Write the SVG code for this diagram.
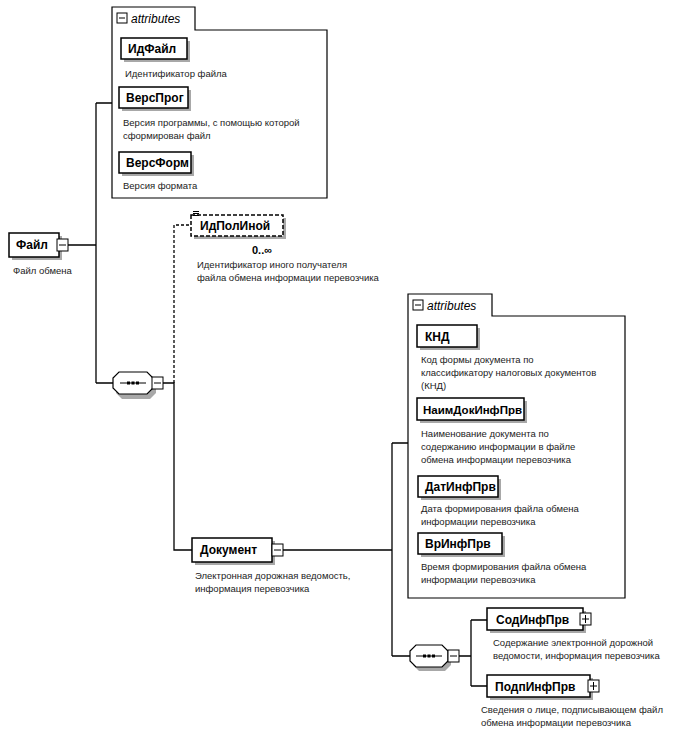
<svg xmlns="http://www.w3.org/2000/svg" width="700" height="736" viewBox="0 0 700 736">
<style>
.bg{fill:#ffffff}
.box{fill:#ffffff;stroke:#000;stroke-width:1.5}
.dbox{fill:#ffffff;stroke:#000;stroke-width:1.5;stroke-dasharray:4 2}
.sh{fill:#a8a8a8}
.grp{fill:#ffffff;stroke:#000;stroke-width:1.2}
.ln{fill:none;stroke:#000;stroke-width:1.3}
.dl{fill:none;stroke:#000;stroke-width:1.3;stroke-dasharray:3 2}
.ic{fill:#ffffff;stroke:#000;stroke-width:1}
.icl{stroke:#000;stroke-width:1}
.nm{font-family:"Liberation Sans",Arial,sans-serif;font-size:12px;font-weight:bold;fill:#000}
.ds{font-family:"Liberation Sans",Arial,sans-serif;font-size:9.5px;fill:#222}
.at{font-family:"Liberation Sans",Arial,sans-serif;font-size:12px;font-style:italic;fill:#000}
.oc{font-family:"Liberation Sans",Arial,sans-serif;font-size:11px;font-weight:bold;fill:#000}
</style>
<rect class="bg" x="0" y="0" width="700" height="736"/>

<g id="connectors">
  <path class="ln" d="M68,245 H96 M96,103 V383 M96,103 H112 M96,383 H113"/>
  <path class="ln" d="M163,383 H174 V550 H192"/>
  <path class="dl" d="M174,383 V225 H191"/>
  <path class="ln" d="M283,550 H392 M392,443 V656 M392,443 H408 M392,656 H410"/>
  <path class="ln" d="M459,656 H471 M471,620 V686 M471,620 H487 M471,686 H487"/>
</g>

<g id="attrs1">
  <path class="grp" d="M112,198 V7 H195 V30 H327 V198 Z"/>
  <rect class="ic" x="117" y="13" width="10" height="10"/>
  <line class="icl" x1="119" y1="18" x2="125" y2="18"/>
  <text class="at" x="131" y="23">attributes</text>
</g>

<g id="ИдФайл">
  <rect class="sh" x="124" y="41" width="66" height="21"/>
  <rect class="box" x="121" y="38" width="66" height="21"/>
  <text class="nm" x="128" y="53">ИдФайл</text>
  <text class="ds" x="125" y="77">Идентификатор файла</text>
</g>

<g id="ВерсПрог">
  <rect class="sh" x="122" y="90" width="69" height="21"/>
  <rect class="box" x="119" y="87" width="69" height="21"/>
  <text class="nm" x="126" y="102">ВерсПрог</text>
  <text class="ds" x="123" y="126">Версия программы, с помощью которой</text>
  <text class="ds" x="123" y="139">сформирован файл</text>
</g>

<g id="ВерсФорм">
  <rect class="sh" x="122" y="155" width="72" height="21"/>
  <rect class="box" x="119" y="152" width="72" height="21"/>
  <text class="nm" x="126" y="167">ВерсФорм</text>
  <text class="ds" x="123" y="189">Версия формата</text>
</g>

<g id="Файл">
  <rect class="sh" x="12" y="236" width="50" height="24"/>
  <rect class="box" x="9" y="233" width="50" height="24"/>
  <text class="nm" x="16" y="249">Файл</text>
  <rect class="ic" x="57" y="239" width="11" height="12"/>
  <line class="icl" x1="59" y1="245" x2="66" y2="245"/>
  <text class="ds" x="13" y="274">Файл обмена</text>
</g>

<g id="ИдПолИной">
  <rect class="sh" x="194" y="218" width="92" height="21"/>
  <rect class="dbox" x="191" y="215" width="92" height="21"/>
  <path class="icl" d="M193,211.5 H199 M193,213.5 H199 M193,215.5 H199"/>
  <text class="nm" x="200" y="230">ИдПолИной</text>
  <text class="oc" x="252" y="254">0..∞</text>
  <text class="ds" x="197" y="268">Идентификатор иного получателя</text>
  <text class="ds" x="197" y="281">файла обмена информации перевозчика</text>
</g>

<g id="seq1">
  <path class="sh" d="M122,377 H150 L156,383 V393 L150,399 H122 L116,393 V383 Z"/>
  <path class="grp" d="M119,372 H147 L153,378 V388 L147,394 H119 L113,388 V378 Z"/>
  <line class="icl" x1="120" y1="383" x2="146" y2="383"/>
  <rect x="127" y="381.5" width="3" height="3" fill="#000"/>
  <rect x="131.5" y="381.5" width="3" height="3" fill="#000"/>
  <rect x="136" y="381.5" width="3" height="3" fill="#000"/>
  <rect class="ic" x="152" y="377" width="11" height="12"/>
  <line class="icl" x1="154" y1="383" x2="161" y2="383"/>
</g>

<g id="Документ">
  <rect class="sh" x="195" y="541" width="80" height="24"/>
  <rect class="box" x="192" y="538" width="80" height="24"/>
  <text class="nm" x="200" y="554">Документ</text>
  <rect class="ic" x="272" y="544" width="11" height="12"/>
  <line class="icl" x1="274" y1="550" x2="281" y2="550"/>
  <text class="ds" x="195" y="579">Электронная дорожная ведомость,</text>
  <text class="ds" x="195" y="592">информация перевозчика</text>
</g>

<g id="attrs2">
  <path class="grp" d="M408,598 V294 H492 V316 H625 V598 Z"/>
  <rect class="ic" x="413" y="300" width="10" height="10"/>
  <line class="icl" x1="415" y1="305" x2="421" y2="305"/>
  <text class="at" x="427" y="310">attributes</text>
</g>

<g id="КНД">
  <rect class="sh" x="420" y="328" width="60" height="22"/>
  <rect class="box" x="417" y="325" width="60" height="22"/>
  <text class="nm" x="425" y="341">КНД</text>
  <text class="ds" x="421" y="363">Код формы документа по</text>
  <text class="ds" x="421" y="376">классификатору налоговых документов</text>
  <text class="ds" x="421" y="389">(КНД)</text>
</g>

<g id="НаимДокИнфПрв">
  <rect class="sh" x="420" y="401" width="107" height="22"/>
  <rect class="box" x="417" y="398" width="107" height="22"/>
  <text class="nm" x="423" y="414" style="font-size:11.5px">НаимДокИнфПрв</text>
  <text class="ds" x="421" y="437">Наименование документа по</text>
  <text class="ds" x="421" y="450">содержанию информации в файле</text>
  <text class="ds" x="421" y="463">обмена информации перевозчика</text>
</g>

<g id="ДатИнфПрв">
  <rect class="sh" x="421" y="479" width="80" height="21"/>
  <rect class="box" x="418" y="476" width="80" height="21"/>
  <text class="nm" x="425" y="491">ДатИнфПрв</text>
  <text class="ds" x="421" y="512">Дата формирования файла обмена</text>
  <text class="ds" x="421" y="525">информации перевозчика</text>
</g>

<g id="ВрИнфПрв">
  <rect class="sh" x="421" y="536" width="84" height="21"/>
  <rect class="box" x="418" y="533" width="84" height="21"/>
  <text class="nm" x="425" y="548">ВрИнфПрв</text>
  <text class="ds" x="421" y="570">Время формирования файла обмена</text>
  <text class="ds" x="421" y="583">информации перевозчика</text>
</g>

<g id="seq2">
  <path class="sh" d="M419,649 H445 L451,655 V665 L445,671 H419 L413,665 V655 Z"/>
  <path class="grp" d="M416,645 H442 L448,651 V661 L442,667 H416 L410,661 V651 Z"/>
  <line class="icl" x1="416" y1="656" x2="442" y2="656"/>
  <rect x="423" y="654.5" width="3" height="3" fill="#000"/>
  <rect x="427.5" y="654.5" width="3" height="3" fill="#000"/>
  <rect x="432" y="654.5" width="3" height="3" fill="#000"/>
  <rect class="ic" x="448" y="650" width="11" height="12"/>
  <line class="icl" x1="450" y1="656" x2="457" y2="656"/>
</g>

<g id="СодИнфПрв">
  <rect class="sh" x="490" y="611" width="96" height="22"/>
  <rect class="box" x="487" y="608" width="96" height="22"/>
  <text class="nm" x="496" y="624">СодИнфПрв</text>
  <rect class="ic" x="580" y="613" width="11" height="12"/>
  <path class="icl" d="M582,619 H589 M585.5,615 V623"/>
  <text class="ds" x="493" y="646">Содержание электронной дорожной</text>
  <text class="ds" x="493" y="659">ведомости, информация перевозчика</text>
</g>

<g id="ПодпИнфПрв">
  <rect class="sh" x="490" y="678" width="103" height="22"/>
  <rect class="box" x="487" y="675" width="103" height="22"/>
  <text class="nm" x="495" y="691">ПодпИнфПрв</text>
  <rect class="ic" x="588" y="680" width="11" height="12"/>
  <path class="icl" d="M590,686 H597 M593.5,682 V690"/>
  <text class="ds" x="481" y="713">Сведения о лице, подписывающем файл</text>
  <text class="ds" x="481" y="726">обмена информации перевозчика</text>
</g>
</svg>
